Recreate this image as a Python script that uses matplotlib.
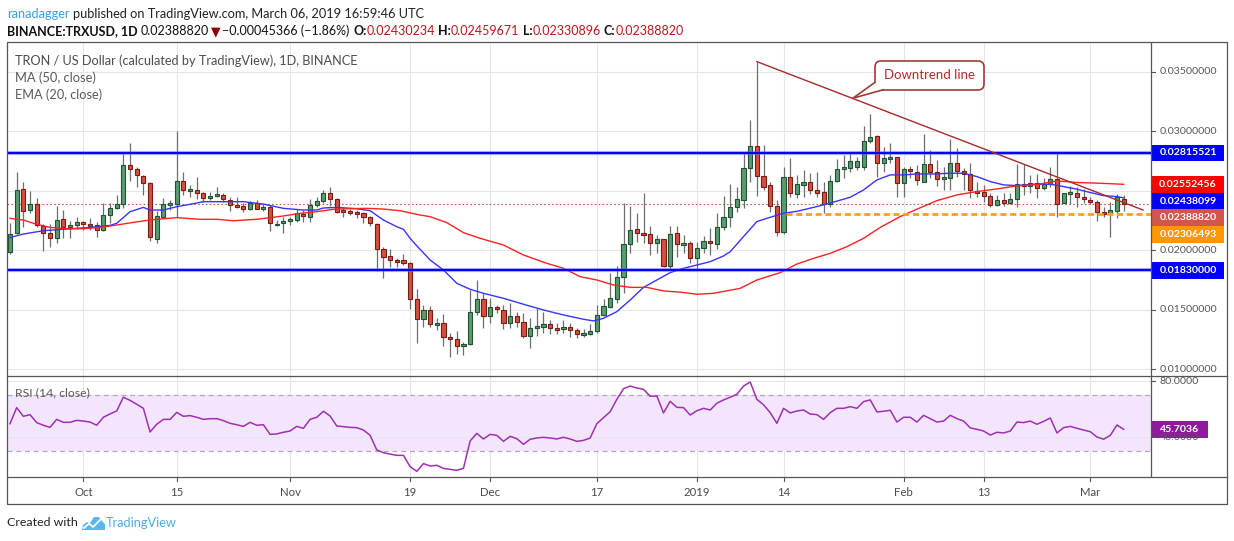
import numpy as np
import pandas as pd
import matplotlib
matplotlib.use("Agg")
import matplotlib.pyplot as plt
from matplotlib import transforms
from matplotlib.patches import Rectangle, FancyBboxPatch, PathPatch, Polygon
from matplotlib.path import Path

W, H = 1234, 541
FONT = ['Lato', 'DejaVu Sans']
plt.rcParams['font.family'] = FONT

# ---------------- data ----------------
start_date = "2018-09-20"
opens = [0.01980, 0.02140, 0.02510, 0.02333, 0.02384, 0.02204, 0.02143, 0.02098, 0.02258, 0.02196,
         0.02207, 0.02232, 0.02216, 0.02207, 0.02165, 0.02291, 0.02350, 0.02384, 0.02711, 0.02678,
         0.02619, 0.02560, 0.02090, 0.02274, 0.02381, 0.02384, 0.02577, 0.02498, 0.02501, 0.02476,
         0.02434, 0.02451, 0.02462, 0.02417, 0.02375, 0.02367, 0.02347, 0.02392, 0.02342, 0.02358,
         0.02213, 0.02224, 0.02241, 0.02249, 0.02302, 0.02280, 0.02375, 0.02409, 0.02476, 0.02426,
         0.02330, 0.02325, 0.02311, 0.02308, 0.02274, 0.02216, 0.02006, 0.01947, 0.01913, 0.01913,
         0.01888, 0.01586, 0.01418, 0.01496, 0.01378, 0.01384, 0.01266, 0.01250, 0.01191, 0.01208,
         0.01476, 0.01586, 0.01448, 0.01521, 0.01496, 0.01384, 0.01446, 0.01398, 0.01280, 0.01342,
         0.01356, 0.01375, 0.01345, 0.01334, 0.01350, 0.01328, 0.01292, 0.01292, 0.01322, 0.01454,
         0.01524, 0.01588, 0.01770, 0.02047, 0.02174, 0.02140, 0.02134, 0.02056, 0.02090, 0.01868,
         0.02140, 0.02045, 0.02056, 0.01930, 0.02014, 0.02076, 0.02047, 0.02197, 0.02275, 0.02359,
         0.02421, 0.02687, 0.02877, 0.02625, 0.02547, 0.02373, 0.02155, 0.02617, 0.02469, 0.02547,
         0.02569, 0.02505, 0.02491, 0.02387, 0.02581, 0.02681, 0.02687, 0.02701, 0.02701, 0.02917,
         0.02959, 0.02729, 0.02771, 0.02779, 0.02567, 0.02681, 0.02659, 0.02575, 0.02723, 0.02659,
         0.02597, 0.02606, 0.02735, 0.02667, 0.02639, 0.02491, 0.02491, 0.02455, 0.02379, 0.02421,
         0.02399, 0.02427, 0.02553, 0.02539, 0.02561, 0.02525, 0.02553, 0.02595, 0.02393, 0.02477,
         0.02477, 0.02449, 0.02415, 0.02407, 0.02323, 0.02301, 0.02331, 0.02430234]
highs = [0.02224, 0.02655, 0.02571, 0.02496, 0.02434, 0.02216, 0.02216, 0.02367, 0.02336, 0.02244,
         0.02280, 0.02244, 0.02266, 0.02232, 0.02392, 0.02392, 0.02459, 0.02804, 0.02899, 0.02700,
         0.02630, 0.02571, 0.02328, 0.02434, 0.02420, 0.03000, 0.02655, 0.02543, 0.02613, 0.02490,
         0.02490, 0.02526, 0.02476, 0.02442, 0.02442, 0.02392, 0.02414, 0.02420, 0.02386, 0.02378,
         0.02252, 0.02280, 0.02274, 0.02342, 0.02336, 0.02426, 0.02442, 0.02504, 0.02526, 0.02434,
         0.02364, 0.02342, 0.02336, 0.02322, 0.02286, 0.02224, 0.02022, 0.02006, 0.01930, 0.01966,
         0.01902, 0.01676, 0.01538, 0.01530, 0.01432, 0.01460, 0.01300, 0.01322, 0.01224, 0.01664,
         0.01748, 0.01636, 0.01594, 0.01538, 0.01538, 0.01552, 0.01482, 0.01468, 0.01432, 0.01516,
         0.01482, 0.01412, 0.01384, 0.01412, 0.01390, 0.01342, 0.01334, 0.01378, 0.01538, 0.01586,
         0.01810, 0.01866, 0.02392, 0.02372, 0.02308, 0.02482, 0.02202, 0.02126, 0.02092, 0.02202,
         0.02202, 0.02126, 0.02076, 0.02070, 0.02118, 0.02188, 0.02308, 0.02455, 0.02553, 0.02533,
         0.02827, 0.03093, 0.03583, 0.02883, 0.02575, 0.02421, 0.02701, 0.02777, 0.02631, 0.02673,
         0.02645, 0.02659, 0.02575, 0.02631, 0.02763, 0.02799, 0.02813, 0.02785, 0.03043, 0.03141,
         0.02967, 0.02869, 0.02897, 0.02785, 0.02701, 0.02707, 0.02715, 0.02975, 0.02841, 0.02757,
         0.02701, 0.02931, 0.02855, 0.02687, 0.02729, 0.02575, 0.02547, 0.02483, 0.02463, 0.02477,
         0.02477, 0.02723, 0.02723, 0.02631, 0.02639, 0.02603, 0.02701, 0.02827, 0.02483, 0.02539,
         0.02533, 0.02511, 0.02449, 0.02421, 0.02365, 0.02407, 0.02471, 0.02459671]
lows = [0.01964, 0.02134, 0.02196, 0.02308, 0.02196, 0.01994, 0.02028, 0.02062, 0.02104, 0.02104,
        0.02176, 0.02168, 0.02168, 0.02112, 0.02160, 0.02224, 0.02342, 0.02356, 0.02582, 0.02532,
        0.02465, 0.02078, 0.02062, 0.02272, 0.02336, 0.02280, 0.02459, 0.02442, 0.02431, 0.02406,
        0.02420, 0.02442, 0.02403, 0.02330, 0.02350, 0.02316, 0.02336, 0.02342, 0.02330, 0.02162,
        0.02202, 0.02146, 0.02210, 0.02238, 0.02238, 0.02238, 0.02364, 0.02392, 0.02367, 0.02308,
        0.02280, 0.02291, 0.02266, 0.02230, 0.02202, 0.01821, 0.01768, 0.01854, 0.01860, 0.01874,
        0.01504, 0.01222, 0.01356, 0.01356, 0.01328, 0.01196, 0.01098, 0.01126, 0.01120, 0.01202,
        0.01454, 0.01342, 0.01384, 0.01468, 0.01336, 0.01342, 0.01356, 0.01258, 0.01179, 0.01278,
        0.01300, 0.01294, 0.01294, 0.01300, 0.01266, 0.01264, 0.01272, 0.01286, 0.01300, 0.01446,
        0.01510, 0.01558, 0.01636, 0.01972, 0.02070, 0.02056, 0.01958, 0.01972, 0.01860, 0.01838,
        0.01938, 0.01972, 0.01894, 0.01832, 0.01972, 0.01958, 0.02006, 0.02169, 0.02197, 0.02323,
        0.02351, 0.02575, 0.02457, 0.02505, 0.02323, 0.02119, 0.02133, 0.02449, 0.02435, 0.02449,
        0.02471, 0.02449, 0.02309, 0.02365, 0.02575, 0.02603, 0.02659, 0.02673, 0.02673, 0.02897,
        0.02617, 0.02659, 0.02729, 0.02449, 0.02449, 0.02603, 0.02547, 0.02575, 0.02603, 0.02539,
        0.02505, 0.02505, 0.02611, 0.02505, 0.02435, 0.02449, 0.02407, 0.02365, 0.02371, 0.02371,
        0.02387, 0.02365, 0.02463, 0.02477, 0.02435, 0.02505, 0.02533, 0.02275, 0.02393, 0.02387,
        0.02365, 0.02393, 0.02387, 0.02247, 0.02281, 0.02107, 0.02267, 0.02330896]
closes = [0.02132, 0.02501, 0.02325, 0.02386, 0.02207, 0.02140, 0.02098, 0.02249, 0.02196, 0.02207,
          0.02232, 0.02216, 0.02207, 0.02165, 0.02291, 0.02350, 0.02384, 0.02711, 0.02678, 0.02627,
          0.02560, 0.02106, 0.02283, 0.02384, 0.02386, 0.02577, 0.02501, 0.02504, 0.02476, 0.02434,
          0.02451, 0.02468, 0.02426, 0.02375, 0.02367, 0.02342, 0.02392, 0.02347, 0.02361, 0.02230,
          0.02216, 0.02241, 0.02258, 0.02308, 0.02283, 0.02375, 0.02409, 0.02476, 0.02426, 0.02316,
          0.02325, 0.02308, 0.02305, 0.02274, 0.02224, 0.02006, 0.01938, 0.01913, 0.01902, 0.01888,
          0.01586, 0.01418, 0.01496, 0.01378, 0.01384, 0.01266, 0.01250, 0.01191, 0.01208, 0.01476,
          0.01586, 0.01448, 0.01524, 0.01502, 0.01384, 0.01446, 0.01398, 0.01280, 0.01342, 0.01362,
          0.01375, 0.01342, 0.01334, 0.01353, 0.01328, 0.01292, 0.01300, 0.01319, 0.01454, 0.01529,
          0.01600, 0.01770, 0.02047, 0.02168, 0.02140, 0.02134, 0.02056, 0.02090, 0.01868, 0.02132,
          0.02047, 0.02050, 0.01930, 0.02014, 0.02078, 0.02056, 0.02190, 0.02275, 0.02359, 0.02427,
          0.02687, 0.02877, 0.02625, 0.02533, 0.02373, 0.02155, 0.02617, 0.02477, 0.02553, 0.02575,
          0.02505, 0.02483, 0.02387, 0.02581, 0.02681, 0.02695, 0.02749, 0.02749, 0.02917, 0.02947,
          0.02729, 0.02771, 0.02779, 0.02567, 0.02681, 0.02665, 0.02589, 0.02723, 0.02659, 0.02597,
          0.02606, 0.02735, 0.02667, 0.02639, 0.02505, 0.02483, 0.02455, 0.02379, 0.02421, 0.02399,
          0.02427, 0.02553, 0.02539, 0.02561, 0.02525, 0.02553, 0.02595, 0.02387, 0.02477, 0.02483,
          0.02449, 0.02427, 0.02407, 0.02323, 0.02301, 0.02337, 0.02449, 0.02388820]

# EMA(20) and MA(50): (day index, value)
ema_x = [0, 2, 5, 8, 12, 15, 16, 18, 20, 21, 23, 25, 27, 29, 35, 38, 41, 44, 46, 47,
         49, 52, 54, 56, 58, 59, 60, 61, 63, 65, 67, 69, 71, 74, 77, 80, 83, 86, 87.5, 89,
         91, 93, 95, 97, 99, 101, 103, 105, 107, 108, 110, 112, 114, 116, 118, 121, 123, 126, 128, 130,
         132, 134, 136, 138.5, 141, 143, 145, 147, 149, 151, 153.5, 156, 158, 160, 162, 164, 166, 167]
ema_v = [0.02105, 0.02134, 0.02162, 0.02174, 0.02190, 0.02207, 0.02224, 0.02322, 0.02358, 0.02336,
         0.02336, 0.02364, 0.02384, 0.02406, 0.02406, 0.02386, 0.02350, 0.02336, 0.02336, 0.02353,
         0.02358, 0.02347, 0.02330, 0.02252, 0.02196, 0.02174, 0.02098, 0.02035, 0.01916, 0.01832,
         0.01720, 0.01670, 0.01636, 0.01594, 0.01544, 0.01496, 0.01454, 0.01418, 0.01404, 0.01426,
         0.01482, 0.01580, 0.01686, 0.01748, 0.01810, 0.01846, 0.01874, 0.01902, 0.01950, 0.01986,
         0.02113, 0.02239, 0.02275, 0.02309, 0.02325, 0.02365, 0.02395, 0.02443, 0.02505, 0.02589,
         0.02631, 0.02631, 0.02639, 0.02639, 0.02645, 0.02645, 0.02617, 0.02575, 0.02547, 0.02541,
         0.02553, 0.02553, 0.02533, 0.02511, 0.02483, 0.02457, 0.02449, 0.02438]
ma_x = [0, 2, 4, 6, 8.5, 11, 13.5, 16, 18.5, 21, 25, 28.5, 31, 33.5, 37, 41, 43.5, 46, 48.5, 51,
        53.5, 56, 58.5, 61.5, 63, 65.5, 68, 70.5, 74, 77, 80.5, 83, 85.5, 88, 90.5, 93, 95.5, 98, 100.5, 103,
        105.5, 109.5, 112, 115.5, 118, 120.5, 123, 125.5, 128, 130.5, 133.5, 136, 139, 142, 145, 148, 151, 154, 157, 160,
        163.5, 167]
ma_v = [0.02266, 0.02252, 0.02216, 0.02190, 0.02179, 0.02179, 0.02190, 0.02210, 0.02232, 0.02252,
        0.02272, 0.02258, 0.02258, 0.02246, 0.02258, 0.02286, 0.02308, 0.02322, 0.02342, 0.02347,
        0.02350, 0.02344, 0.02330, 0.02294, 0.02280, 0.02230, 0.02146, 0.02098, 0.02042, 0.01958,
        0.01888, 0.01846, 0.01776, 0.01748, 0.01706, 0.01686, 0.01686, 0.01656, 0.01646, 0.01628,
        0.01636, 0.01678, 0.01748, 0.01810, 0.01882, 0.01930, 0.01972, 0.02028, 0.02098, 0.02190,
        0.02281, 0.02343, 0.02415, 0.02463, 0.02491, 0.02513, 0.02539, 0.02550, 0.02581, 0.02567,
        0.02561, 0.02552]

rsi = [49.7, 61.2, 55.0, 56.2, 50.5, 48.6, 47.1, 52.8, 50.7, 50.7,
       52.1, 51.6, 50.9, 48.6, 54.3, 56.7, 58.8, 68.6, 66.4, 63.6,
       60.7, 43.8, 49.3, 52.8, 52.8, 57.8, 55.0, 55.5, 54.3, 52.8,
       53.3, 53.3, 51.9, 50.0, 49.0, 47.8, 50.7, 48.6, 49.0, 42.1,
       42.4, 43.6, 44.5, 47.8, 46.4, 52.8, 54.3, 58.6, 55.2, 48.1,
       47.6, 47.1, 46.9, 45.2, 41.4, 31.0, 29.0, 28.0, 27.1, 27.1,
       19.0, 15.7, 21.2, 19.5, 20.0, 17.8, 17.1, 16.4, 17.8, 37.4,
       42.8, 38.8, 42.1, 41.4, 37.1, 40.7, 39.0, 35.0, 38.6, 39.5,
       40.0, 39.5, 38.8, 40.0, 38.8, 37.1, 37.8, 39.5, 49.7, 54.0,
       58.3, 67.1, 74.7, 76.6, 75.2, 74.3, 69.3, 69.5, 57.4, 65.7,
       61.4, 61.2, 55.9, 59.0, 60.7, 59.5, 64.3, 66.7, 68.6, 70.7,
       76.6, 79.5, 67.1, 63.2, 57.6, 50.0, 60.7, 57.4, 58.8, 59.5,
       56.6, 56.2, 52.8, 57.6, 60.7, 60.7, 61.9, 60.7, 65.5, 66.7,
       58.1, 58.6, 59.3, 50.9, 54.3, 54.3, 50.9, 55.7, 53.3, 50.9,
       51.6, 55.7, 53.3, 51.6, 46.7, 45.7, 44.5, 41.6, 43.6, 43.1,
       44.5, 50.9, 50.5, 51.6, 49.3, 51.4, 53.8, 43.1, 46.9, 47.8,
       46.4, 45.2, 44.0, 40.2, 38.6, 41.4, 48.8, 45.7036]

tick_dates = ["2018-10-01", "2018-10-15", "2018-11-01", "2018-11-19", "2018-12-01", "2018-12-17",
              "2019-01-01", "2019-01-14", "2019-02-01", "2019-02-13", "2019-03-01"]
tick_labels = ["Oct", "15", "Nov", "19", "Dec", "17", "2019", "14", "Feb", "13", "Mar"]
price_ticks = [0.010, 0.015, 0.020, 0.025, 0.030, 0.035]
price_tick_labels = ["0.01000000", "0.01500000", "0.02000000", "", "0.03000000", "0.03500000"]

resistance = 0.02815521
support = 0.01830000
ema_last = 0.02438099
ma_last = 0.02552456
last_close = 0.02388820
orange_level = 0.02306493
orange_start = "2019-01-14"
trend_start = ("2019-01-10", 0.03583)
trend_end_price = 0.02336

# ---------------- figure ----------------
fig = plt.figure(figsize=(W / 100, H / 100), dpi=100)
fig.patch.set_facecolor('white')
PX = transforms.Affine2D().scale(1 / W, -1 / H).translate(0, 1) + fig.transFigure
rend = fig.canvas.get_renderer()

Lx, Rx = 7, 1151
TOP, MID, BOT, OUTB, OUTR = 42, 376, 477, 504, 1227

ax = fig.add_axes([Lx / W, 1 - MID / H, (Rx - Lx) / W, (MID - TOP) / H])
axr = fig.add_axes([Lx / W, 1 - BOT / H, (Rx - Lx) / W, (BOT - MID) / H])
for a in (ax, axr):
    a.set_axis_off()

dates = pd.date_range(start_date, periods=len(closes), freq="D")
n = len(dates)
x = np.arange(n)
O = np.array(opens); Hh = np.array(highs); Lo = np.array(lows); C = np.array(closes)
XL = (-0.45, 171.1)
ax.set_xlim(*XL); axr.set_xlim(*XL)
ax.set_ylim(0.009412, 0.037479)
axr.set_ylim(11.64, 83.79)

tick_idx = [dates.get_loc(pd.Timestamp(d)) for d in tick_dates]

GRID = '#e6e6e6'
for t in tick_idx:
    ax.axvline(t, color=GRID, lw=0.8, zorder=0)
    axr.axvline(t, color=GRID, lw=0.8, zorder=0)
for p in price_ticks:
    ax.axhline(p, color=GRID, lw=0.8, zorder=0)

# last price dotted line
ax.axhline(last_close, color='#c8564a', lw=0.8, ls=(0, (1.5, 2)), zorder=1)

# candles
up = C >= O
lo_b = np.minimum(O, C)
hb = np.abs(C - O)
minh = 0.00016
small = hb < minh
lo_b = np.where(small, (O + C) / 2 - minh / 2, lo_b)
hb = np.where(small, minh, hb)
ax.vlines(x, Lo, Hh, color='#6e6e6e', lw=0.9, zorder=3)
ax.bar(x[up], hb[up], bottom=lo_b[up], width=0.62, color='#5b9b6f', edgecolor='#1f5233',
       linewidth=0.8, zorder=4)
ax.bar(x[~up], hb[~up], bottom=lo_b[~up], width=0.62, color='#d4503d', edgecolor='#7a1c14',
       linewidth=0.8, zorder=4)

# horizontal S/R lines
for lvl in (resistance, support):
    ax.axhline(lvl, color='#6a6aff', lw=3.0, alpha=0.45, zorder=6)
    ax.axhline(lvl, color='#0000ff', lw=1.6, zorder=6)

# moving averages
ax.plot(ema_x, ema_v, color='#3535ff', lw=1.0, zorder=5)
ax.plot(ma_x, ma_v, color='#ff2020', lw=1.0, zorder=5)

# orange dashed level
o_idx = dates.get_loc(pd.Timestamp(orange_start)) + 0.4
ax.hlines(orange_level, o_idx, XL[1], color='#ff9f1a', lw=2.0, linestyles=(0, (2.2, 1.3)), zorder=5)

# downtrend line
ts = dates.get_loc(pd.Timestamp(trend_start[0]))
ax.plot([ts, 169.9], [trend_start[1], trend_end_price], color='#a52a2a', lw=1.0, zorder=7)

# RSI pane
axr.axhspan(30, 70, color='#f3e6fc', zorder=0, lw=0)
for v in (80, 40):
    axr.axhline(v, color=GRID, lw=0.8, zorder=1)
for v in (70, 30):
    axr.axhline(v, color='#b3a8b8', lw=0.9, ls=(0, (4, 3)), zorder=1)
axr.plot(x, rsi, color='#a02fb5', lw=1.1, zorder=3)

# ---------------- frame ----------------
def pline(xs, ys, **kw):
    fig.add_artist(plt.Line2D(xs, ys, transform=PX, **kw))

FR = '#555555'
fig.add_artist(Rectangle((Lx, TOP), OUTR - Lx, OUTB - TOP, transform=PX, fill=False, ec=FR, lw=0.9))
pline([Lx, OUTR], [MID, MID], color=FR, lw=0.9)
pline([Lx, OUTR], [BOT, BOT], color=FR, lw=0.9)
pline([Rx, Rx], [TOP, BOT], color=FR, lw=0.9)

# ---------------- text helpers ----------------
def twidth(s, size, weight='normal'):
    t = fig.text(0, 0, s, fontsize=size, weight=weight)
    w = t.get_window_extent(rend).width
    t.remove()
    return w

def space_w(size, weight):
    return twidth('a a', size, weight) - twidth('aa', size, weight)

def runs_width(runs, size):
    return sum(twidth(s, size, w) + g * space_w(size, w) for s, c, w, g in runs)

def draw_runs(x0, y0, runs, target, base=10):
    size = base * target / runs_width(runs, base)
    cx = x0
    for s, c, w, g in runs:
        fig.text(cx, y0, s, transform=PX, fontsize=size, color=c, weight=w, ha='left', va='center')
        cx += twidth(s, size, w) + g * space_w(size, w)
    return size

def fit_size(s, target, weight='normal', base=10):
    return base * target / twidth(s, base, weight)

# header
draw_runs(7, 14, [("ranadagger", '#3b9edb', 'normal', 1),
                  ("published on TradingView.com, March 06, 2019 16:59:46 UTC", '#222222', 'normal', 0)], 417)
RED = '#c0161b'
draw_runs(7, 31, [("BINANCE:TRXUSD, 1D", '#111111', 'bold', 1),
                  ("0.02388820", '#111111', 'normal', 0.6),
                  ("▼", '#8b0000', 'normal', 0.6),
                  ("−0.00045366 (−1.86%)", '#111111', 'normal', 1),
                  ("O:", '#111111', 'bold', 0), ("0.02430234", RED, 'normal', 1),
                  ("H:", '#111111', 'bold', 0), ("0.02459671", RED, 'normal', 1),
                  ("L:", '#111111', 'bold', 0), ("0.02330896", RED, 'normal', 1),
                  ("C:", '#111111', 'bold', 0), ("0.02388820", RED, 'normal', 0)], 676)

# legend
draw_runs(15, 61, [("TRON / US Dollar (calculated by TradingView), 1D, BINANCE", '#4d4d4d', 'normal', 0)], 345)
draw_runs(15, 78, [("MA (50, close)", '#5a5a5a', 'normal', 0)], 81)
draw_runs(15, 95, [("EMA (20, close)", '#5a5a5a', 'normal', 0)], 87)
draw_runs(15, 393, [("RSI (14, close)", '#5a5a5a', 'normal', 0)], 75)

# axis labels
FS = fit_size("0.03500000", 57)
def py(a, v):
    return H - a.transData.transform((0, v))[1]

for p, lab in zip(price_ticks, price_tick_labels):
    yy = py(ax, p)
    pline([Rx, Rx + 4], [yy, yy], color=FR, lw=0.8)
    if lab:
        fig.text(1160, yy, lab, transform=PX, fontsize=FS, color='#555555', ha='left', va='center')

boxes = [(resistance, '#0000ff', "0.02815521"), (ma_last, '#ff0000', "0.02552456"),
         (ema_last, '#0000ff', "0.02438099"), (last_close, '#d4564a', "0.02388820"),
         (orange_level, '#ff9800', "0.02306493"), (support, '#0000ff', "0.01830000")]
ys = sorted([(py(ax, v), col, lab) for v, col, lab in boxes])
prev = -1e9
BH = 16.8
for yy, col, lab in ys:
    yc = max(yy, prev + BH)
    prev = yc
    fig.add_artist(Rectangle((1152, yc - BH / 2), 72, BH, transform=PX, fc=col, ec='none'))
    fig.text(1188, yc, lab, transform=PX, fontsize=FS, color='white', weight='bold', ha='center', va='center')

for v, lab in ((80, "80.0000"), (40, "40.0000")):
    yy = py(axr, v)
    pline([Rx, Rx + 4], [yy, yy], color=FR, lw=0.8)
    fig.text(1160, yy, lab, transform=PX, fontsize=FS, color='#555555', ha='left', va='center')
yr = py(axr, rsi[-1])
fig.add_artist(Rectangle((1152, yr - BH / 2), 56, BH, transform=PX, fc='#8e1b9b', ec='none'))
fig.text(1180, yr, "45.7036", transform=PX, fontsize=FS, color='white', weight='bold', ha='center', va='center')

# time axis
TB = transforms.blended_transform_factory(axr.transData, PX)
for t, lab in zip(tick_idx, tick_labels):
    fig.add_artist(plt.Line2D([t, t], [BOT, BOT + 4], transform=TB, color=FR, lw=0.8))
    fig.text(t, 492, lab, transform=TB, fontsize=FS * 1.08, color='#4a4a4a', ha='center', va='center')

# callout
box = FancyBboxPatch((875, 61), 109, 29, boxstyle="round,pad=0,rounding_size=6",
                     transform=PX, fc='white', ec='#a33a3a', lw=1.2, zorder=10)
fig.add_artist(box)
tail = PathPatch(Path([(875.5, 82), (852.7, 98.3), (884, 89.5)], [Path.MOVETO, Path.LINETO, Path.LINETO]),
                 transform=PX, fc='white', ec='#a33a3a', lw=1.2, zorder=11)
fig.add_artist(tail)
fig.text(930, 75, "Downtrend line", transform=PX, fontsize=fit_size("Downtrend line", 91),
         color='#b02a2a', ha='center', va='center', zorder=12)

# footer
draw_runs(7, 523, [("Created with", '#222222', 'normal', 0)], 71)
fig.add_artist(Polygon([(82, 530), (83, 525), (87, 522), (90, 523), (94, 517), (99, 517),
                        (102, 521), (105, 524), (105, 530)], closed=True, transform=PX,
                       fc='#5ab8e8', ec='none'))
pline([84, 89, 93, 100], [528, 523.5, 527, 520], color='white', lw=1.3)
draw_runs(106, 523, [("TradingView", '#4aaee3', 'normal', 0)], 71)

fig.savefig("out.png", dpi=100, facecolor='white')
